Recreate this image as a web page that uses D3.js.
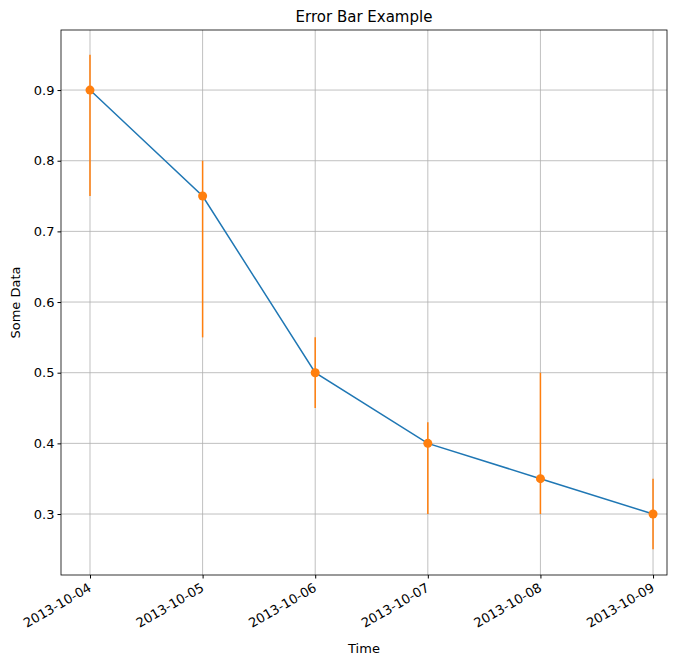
<!DOCTYPE html>
<html><head><meta charset="utf-8">
<script src="https://cdn.jsdelivr.net/npm/d3@7"></script>
<style>body{margin:0;background:#fff}text{font-family:"DejaVu Sans",sans-serif}</style>
</head><body><svg id="c" width="691" height="666"></svg>
<script>
var dates = ["2013-10-04", "2013-10-05", "2013-10-06", "2013-10-07", "2013-10-08", "2013-10-09"],
    values = [0.9, 0.75, 0.5, 0.4, 0.35, 0.3],
    errLow = [0.15, 0.2, 0.05, 0.1, 0.05, 0.05],
    errHigh = [0.05, 0.05, 0.05, 0.03, 0.15, 0.05],
    yTicks = [0.3, 0.4, 0.5, 0.6, 0.7, 0.8, 0.9];

var parse = d3.utcParse("%Y-%m-%d"),
    pts = dates.map(function (d, i) {
        return {t: parse(d), v: values[i], lo: values[i] - errLow[i], hi: values[i] + errHigh[i], label: d};
    }),
    L = 61, R = 667, T = 30, B = 575,
    day = 86400000,
    t0 = pts[0].t.getTime(),
    x = d3.scaleUtc().domain([new Date(t0 - 0.2575 * day), new Date(t0 + 5.124 * day)]).range([L, R]),
    y = d3.scaleLinear().domain([0.2137, 0.985]).range([B, T]),
    svg = d3.select("#c");

// grid
svg.selectAll(".gx").data(pts).enter().append("line")
    .attr("x1", function (d) { return x(d.t); }).attr("x2", function (d) { return x(d.t); })
    .attr("y1", T).attr("y2", B).attr("stroke", "#b0b0b0").attr("stroke-width", 0.8);
svg.selectAll(".gy").data(yTicks).enter().append("line")
    .attr("x1", L).attr("x2", R)
    .attr("y1", function (d) { return y(d); }).attr("y2", function (d) { return y(d); })
    .attr("stroke", "#b0b0b0").attr("stroke-width", 0.8);

// line
svg.append("path").datum(pts)
    .attr("d", d3.line().x(function (d) { return x(d.t); }).y(function (d) { return y(d.v); }))
    .attr("fill", "none").attr("stroke", "#1f77b4").attr("stroke-width", 1.5);

// error bars
svg.selectAll(".eb").data(pts).enter().append("line")
    .attr("x1", function (d) { return x(d.t); }).attr("x2", function (d) { return x(d.t); })
    .attr("y1", function (d) { return y(d.lo); }).attr("y2", function (d) { return y(d.hi); })
    .attr("stroke", "#ff7f0e").attr("stroke-width", 1.5);
svg.selectAll(".pt").data(pts).enter().append("circle")
    .attr("cx", function (d) { return x(d.t); }).attr("cy", function (d) { return y(d.v); })
    .attr("r", 4.5).attr("fill", "#ff7f0e");

// axes
var xa = svg.append("g").attr("transform", "translate(0," + B + ")")
    .call(d3.axisBottom(x).tickValues(pts.map(function (d) { return d.t; }))
        .tickFormat(d3.utcFormat("%Y-%m-%d")).tickSize(3.5).tickSizeOuter(0));
xa.selectAll("text").attr("font-size", 13).attr("fill", "#000")
    .attr("text-anchor", "end").attr("dy", null).attr("y", 0)
    .attr("transform", "translate(-3,7) rotate(-30)").attr("dominant-baseline", "hanging");
var ya = svg.append("g").attr("transform", "translate(" + L + ",0)")
    .call(d3.axisLeft(y).tickValues(yTicks).tickFormat(d3.format(".1f")).tickSize(3.5).tickSizeOuter(0));
ya.selectAll("text").attr("font-size", 13).attr("fill", "#000");
svg.selectAll(".domain").remove();
svg.append("rect").attr("x", L).attr("y", T).attr("width", R - L).attr("height", B - T)
    .attr("fill", "none").attr("stroke", "#000").attr("stroke-width", 0.8);

svg.append("text").attr("x", (L + R) / 2).attr("y", T - 8).attr("text-anchor", "middle")
    .attr("font-size", 15).text("Error Bar Example");
svg.append("text").attr("x", (L + R) / 2).attr("y", 653).attr("text-anchor", "middle")
    .attr("font-size", 13).text("Time");
svg.append("text").attr("transform", "translate(20," + ((T + B) / 2) + ") rotate(-90)")
    .attr("text-anchor", "middle").attr("font-size", 13).text("Some Data");
</script></body></html>
